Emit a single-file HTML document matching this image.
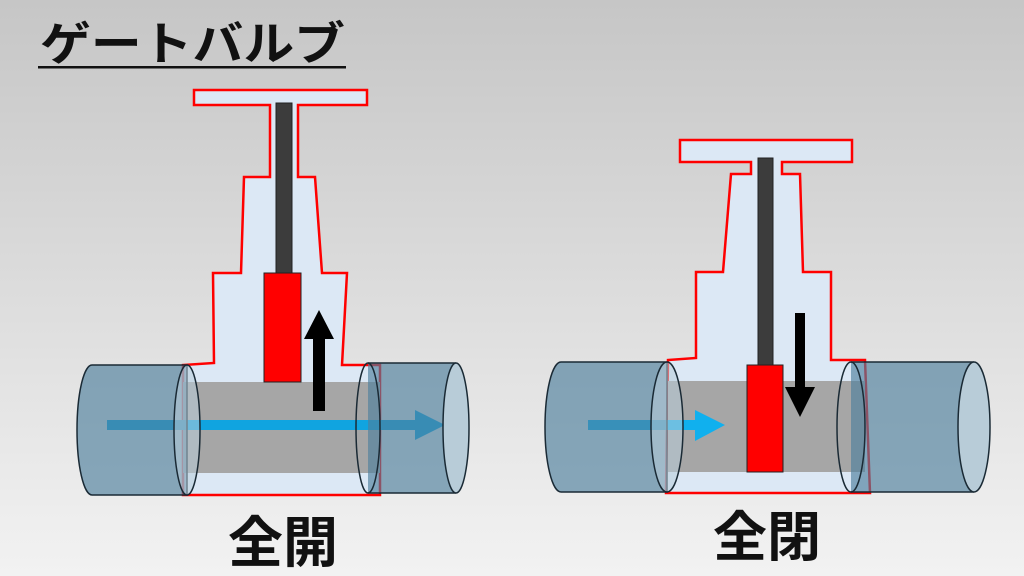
<!DOCTYPE html>
<html><head><meta charset="utf-8"><style>
html,body{margin:0;padding:0;width:1024px;height:576px;overflow:hidden}
svg{display:block}
text{font-family:"Liberation Sans","Noto Sans CJK JP",sans-serif;font-weight:bold;fill:#111}
</style></head><body>
<svg width="1024" height="576" viewBox="0 0 1024 576" xmlns="http://www.w3.org/2000/svg">
<defs>
<linearGradient id="bg" x1="0" y1="0" x2="0" y2="1">
<stop offset="0" stop-color="#c6c6c6"/><stop offset="1" stop-color="#f2f2f2"/>
</linearGradient>
</defs>
<rect width="1024" height="576" fill="url(#bg)"/>
<text x="40" y="60" font-size="46" textLength="305" lengthAdjust="spacingAndGlyphs">ゲートバルブ</text>
<rect x="38" y="66" width="308" height="2.5" fill="#111"/>

<!-- LEFT VALVE -->
<polygon points="194,90 367,90 367,105 298,105 298,177 315,177 322,273 347,273 342,365 380,365 380,495 183,495 183,365 214,363 213,273 241,273 244,177 270,177 270,105 194,105" fill="#dce8f5" stroke="#ff0000" stroke-width="2.5" stroke-linejoin="miter"/>
<rect x="183" y="382" width="197" height="91" fill="#a6a6a6"/>
<rect x="276" y="103" width="16" height="170" fill="#3c3c3c" stroke="#222" stroke-width="1"/>
<rect x="264" y="273" width="37" height="109" fill="#ff0000" stroke="#222" stroke-width="1"/>
<polygon points="313,411 325,411 325,339 334,339 319,310 304,339 313,339" fill="#000"/>
<polygon points="107,420 415,420 415,410 445,425 415,440 415,430 107,430" fill="#10a4e0"/>
<path d="M92,365 L187,365 L187,495 L92,495 A15,65 0 0 1 92,365 Z" fill="#4f7f9c" fill-opacity="0.65" stroke="#1a2a35" stroke-width="1.5"/>
<ellipse cx="187" cy="430" rx="13" ry="65" fill="#b8ccd8" fill-opacity="0.55" stroke="#1a2a35" stroke-width="1.5"/>
<path d="M368,363 L456,363 L456,493 L368,493 Z" fill="#4f7f9c" fill-opacity="0.65" stroke="none"/>
<line x1="368" y1="363" x2="456" y2="363" stroke="#1a2a35" stroke-width="1.5"/>
<line x1="368" y1="493" x2="456" y2="493" stroke="#1a2a35" stroke-width="1.5"/>
<ellipse cx="368" cy="428" rx="12" ry="65" fill="none" stroke="#1a2a35" stroke-width="1.5"/>
<ellipse cx="456" cy="428" rx="13" ry="65" fill="#b8ccd8" stroke="#1a2a35" stroke-width="1.5"/>
<text x="283" y="562" font-size="55" text-anchor="middle">全開</text>

<!-- RIGHT VALVE -->
<polygon points="680,140 852,140 852,162 782,162 782,174 800,174 803,272 831,272 831,360 865,360 870,493 666,493 668,360 696,358 696,272 723,272 731,174 751,174 751,162 680,162" fill="#dce8f5" stroke="#ff0000" stroke-width="2.5"/>
<rect x="668" y="381" width="197" height="91" fill="#a6a6a6"/>
<rect x="758" y="158" width="15" height="207" fill="#3c3c3c" stroke="#222" stroke-width="1"/>
<rect x="747" y="365" width="36" height="107" fill="#ff0000" stroke="#222" stroke-width="1"/>
<polygon points="795,313 805,313 805,387 815,387 800,417 785,387 795,387" fill="#000"/>
<polygon points="588,420 695,420 695,410 725,425 695,441 695,430 588,430" fill="#10b0ee"/>
<path d="M561,362 L667,362 L667,492 L561,492 A16,65 0 0 1 561,362 Z" fill="#4f7f9c" fill-opacity="0.65" stroke="#1a2a35" stroke-width="1.5"/>
<ellipse cx="667" cy="427" rx="16" ry="65" fill="#b8ccd8" fill-opacity="0.55" stroke="#1a2a35" stroke-width="1.5"/>
<path d="M851,362 L974,362 L974,492 L851,492 Z" fill="#4f7f9c" fill-opacity="0.65"/>
<line x1="851" y1="362" x2="974" y2="362" stroke="#1a2a35" stroke-width="1.5"/>
<line x1="851" y1="492" x2="974" y2="492" stroke="#1a2a35" stroke-width="1.5"/>
<ellipse cx="851" cy="427" rx="14" ry="65" fill="none" stroke="#1a2a35" stroke-width="1.5"/>
<ellipse cx="974" cy="427" rx="16" ry="65" fill="#b8ccd8" stroke="#1a2a35" stroke-width="1.5"/>
<text x="767" y="556" font-size="54" text-anchor="middle">全閉</text>
</svg>
</body></html>
